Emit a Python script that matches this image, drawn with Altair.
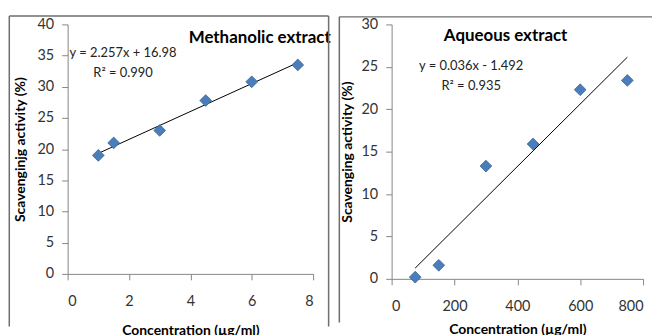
import altair as alt
import pandas as pd

# ---- data ----
meth_conc = [1, 1.5, 3, 4.5, 6, 7.5]
meth_act = [19.0, 21.0, 23.0, 27.8, 30.8, 33.5]
aq_conc = [75, 150, 300, 450, 600, 750]
aq_act = [0.2, 1.6, 13.3, 15.9, 22.3, 23.4]

meth_xticks = [0, 2, 4, 6, 8]
meth_yticks = [0, 5, 10, 15, 20, 25, 30, 35, 40]
aq_xticks = [0, 200, 400, 600, 800]
aq_yticks = [0, 5, 10, 15, 20, 25, 30]

meth_title = "Methanolic extract"
aq_title = "Aqueous extract"
meth_eq = ["y = 2.257x + 16.98", "R² = 0.990"]
aq_eq = ["y = 0.036x - 1.492", "R² = 0.935"]
meth_ytitle = "Scavenginjg activity (%)"
aq_ytitle = "Scavenging activity (%)"
xtitle = "Concentration (µg/ml)"

FONT = "Lato"
BORDER = "#6e6e6e"


def text_layer(txt, x, y, size, weight="normal", color="black"):
    d = pd.DataFrame({"t": [txt]})
    return alt.Chart(d).mark_text(font=FONT, fontSize=size, fontWeight=weight,
                                  color=color, align="center",
                                  baseline="middle").encode(
        x=alt.value(x), y=alt.value(y), text="t:N")


def rule_layer(x1, x2, y1, y2):
    d = pd.DataFrame({"t": [0]})
    return alt.Chart(d).mark_rule(color=BORDER, strokeWidth=1.5).encode(
        x=alt.value(x1), x2=alt.value(x2), y=alt.value(y1), y2=alt.value(y2))


def panel(conc, act, xdom, xticks, ydom, yticks, w, h, ytitle, ytitle_x,
          xtitle_y, title, title_pos, eq, eq_pos, border, right_edge):
    df = pd.DataFrame({"conc": conc, "act": act})
    base = alt.Chart(df).encode(
        x=alt.X("conc:Q",
                scale=alt.Scale(domain=xdom, nice=False, zero=False),
                axis=alt.Axis(values=xticks, title=xtitle, titleX=w / 2,
                              titleY=xtitle_y, titleBaseline="middle",
                              titleAlign="center", labelPadding=15)),
        y=alt.Y("act:Q",
                scale=alt.Scale(domain=ydom, nice=False, zero=False),
                axis=alt.Axis(values=yticks, title=ytitle, titleX=ytitle_x,
                              titleY=h / 2, titleBaseline="middle",
                              titleAlign="center", titleAngle=270,
                              labelPadding=8)),
    )
    pts = base.mark_point(shape="diamond", filled=True, size=140,
                          fill="#4a7ebb", stroke="#3a6598", strokeWidth=0.8,
                          opacity=1)
    fit = base.transform_regression("conc", "act").mark_line(
        color="black", strokeWidth=1)

    layers = [fit, pts,
              text_layer(title, title_pos[0], title_pos[1], 17, "bold"),
              text_layer(eq[0], eq_pos[0], eq_pos[1], 13, color="#222"),
              text_layer(eq[1], eq_pos[0], eq_pos[1] + 20, 13, color="#222")]
    bl, bt, br, bb = border
    layers.append(rule_layer(bl, bl, bt, bb))
    layers.append(rule_layer(bl, br, bt, bt))
    if right_edge:
        layers.append(rule_layer(br, br, bt, bb))
    return alt.layer(*layers).properties(width=w, height=h)


left = panel(meth_conc, meth_act, [0, 8], meth_xticks, [0, 40], meth_yticks,
             247, 251, meth_ytitle, -47.7, 57.3, meth_title, (193.3, 14),
             meth_eq, (55.8, 29), (-58.7, -8.4, 262.6, 304), True)
right = panel(aq_conc, aq_act, [0, 800], aq_xticks, [0, 30], aq_yticks,
              253, 256, aq_ytitle, -44.3, 50.7, aq_title, (114.7, 11.7),
              aq_eq, (80, 41.7), (-52.6, -7.6, 262, 300), False)

chart = alt.hconcat(left, right, spacing=79, bounds="flush").configure(
    padding={"left": 0, "top": 5.5, "right": 0, "bottom": 0},
    background="white",
).configure_view(stroke=None).configure_axis(
    grid=False, domainColor="#868686", tickColor="#868686", tickSize=6,
    labelFont=FONT, labelFontSize=14.5, labelColor="#333",
    titleFont=FONT, titleFontSize=14, titleFontWeight="bold", titleColor="black",
)

chart.save("out.html", embed_options={"renderer": "svg", "actions": False})
